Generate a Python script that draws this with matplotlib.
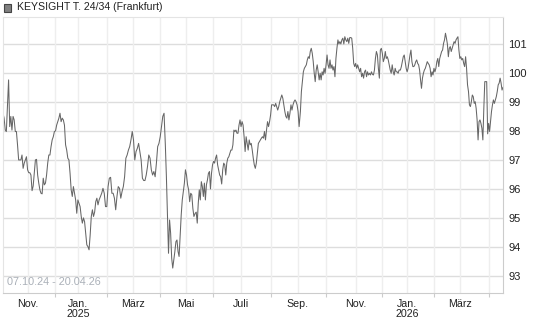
import numpy as np
import pandas as pd
import matplotlib
matplotlib.use('Agg')
import matplotlib.pyplot as plt
from matplotlib.patches import Rectangle

plt.rcParams['font.family'] = ['Liberation Sans', 'DejaVu Sans']

title = 'KEYSIGHT T. 24/34 (Frankfurt)'
period = '07.10.24 - 20.04.26'
y_ticks = [93, 94, 95, 96, 97, 98, 99, 100, 101]
month_names = {1: 'Jan.', 3: 'März', 5: 'Mai', 7: 'Juli', 9: 'Sep.', 11: 'Nov.'}

# Frankfurt exchange holidays in the period (axis runs on trading days)
holidays = ['2024-12-24', '2024-12-25', '2024-12-26', '2024-12-31', '2025-01-01',
            '2025-04-18', '2025-04-21', '2025-05-01', '2025-12-24', '2025-12-25',
            '2025-12-26', '2025-12-31', '2026-01-01', '2026-04-03', '2026-04-06']

# price readings, split in stretches between these dates
seg_dates = [('2024-10-07', '2025-01-24'), ('2025-01-28', '2025-04-04'),
             ('2025-04-07', '2025-05-12'), ('2025-05-13', '2025-09-02'),
             ('2025-09-03', '2025-12-18'), ('2025-12-19', '2026-04-20')]

seg_a = [98.61, 98.44, 98.03, 97.98, 98.90, 99.76, 98.15, 98.50, 98.03, 98.50, 98.38, 97.98, 97.98,
         97.52, 97.00, 97.00, 97.00, 97.17, 96.71, 96.89, 97.00, 97.11, 96.66, 96.56, 96.56, 96.48,
         95.94, 96.10, 96.54, 97.00, 97.02, 96.48, 96.20, 95.97, 95.85, 95.83, 96.37, 96.14, 96.20,
         96.48, 96.89, 97.17, 97.17, 97.46, 97.69, 97.80, 97.98, 98.00, 98.20, 98.32, 98.44, 98.61,
         98.32, 98.44, 98.38, 98.20, 97.52, 97.34, 97.06, 97.00, 96.54, 95.97, 95.74, 96.08, 95.85,
         95.62, 95.16, 95.62, 95.50, 95.39, 95.05, 94.82, 95.00, 94.87, 94.47, 94.07, 94.01, 93.90,
         94.41, 95.05, 95.28, 95.05, 95.20, 95.56, 95.68, 95.45, 95.62]
seg_b1 = [95.85, 96.02, 95.85, 95.39, 95.39, 96.08, 96.37, 96.40, 95.85, 95.85, 95.68, 95.28, 95.74,
          96.08, 96.02, 95.68, 95.91, 96.08, 96.42, 97.06, 97.17, 97.34, 97.46, 97.69, 97.98, 97.69,
          97.00, 97.29, 97.40, 97.57, 97.29, 97.00, 96.37, 96.29, 96.29, 96.48, 96.77, 97.17, 97.06,
          96.66, 96.48, 96.60, 96.42, 96.89, 97.46, 97.57, 97.80, 98.15, 98.50, 98.61]
seg_b2 = [97.52, 96.42, 95.16, 93.78, 94.93, 94.47, 93.61, 93.27, 93.55, 93.84, 94.18, 94.24, 93.84,
          93.67, 94.36, 95.10, 95.62, 95.91, 96.20, 96.66, 96.48, 96.14, 95.97, 95.56, 95.85, 95.80,
          95.33, 95.05]
seg_c = [95.16, 95.20, 94.82, 95.51, 95.97, 95.62, 96.25, 96.08, 95.74, 96.20, 95.62, 96.14, 96.31,
         96.54, 96.60, 96.00, 96.54, 96.83, 96.95, 96.89, 97.06, 97.17, 96.83, 96.66, 96.48, 96.42,
         96.17, 96.66, 96.89, 96.83, 96.48, 96.89, 97.06, 97.11, 97.23, 97.34, 97.34, 97.52, 98.03,
         97.98, 98.03, 97.92, 97.92, 98.20, 98.38, 98.15, 98.32, 98.20, 97.80, 97.29, 97.80, 97.57,
         97.34, 97.69, 97.52, 97.57, 97.34, 97.06, 96.83, 96.71, 96.89, 97.23, 97.57, 97.63, 97.69,
         97.75, 97.80, 97.75, 97.98, 97.69, 98.03, 98.32, 98.15, 98.32, 98.55, 98.90, 98.90, 98.90,
         98.84, 98.95, 98.84, 98.72, 98.84, 99.01, 99.13, 99.24, 99.13, 98.90, 98.67, 98.50, 98.44,
         98.67, 98.38, 98.61, 98.90, 98.72, 98.90, 99.01, 99.07, 99.01, 98.90, 98.67, 98.15]
seg_d = [98.67, 99.36, 99.70, 100.04, 100.16, 100.22, 100.28, 100.45, 100.56, 100.50, 100.74, 100.85,
         100.68, 100.39, 99.99, 99.70, 100.10, 100.28, 100.04, 99.76, 99.99, 99.76, 100.04, 99.93,
         100.16, 99.99, 100.28, 100.62, 100.28, 100.16, 100.45, 100.16, 100.28, 100.10, 100.22, 99.87,
         100.50, 100.85, 101.14, 101.00, 101.08, 101.00, 101.14, 101.20, 101.00, 101.25, 101.14,
         101.08, 101.20, 101.02, 101.22, 101.22, 101.20, 100.85, 100.33, 100.22, 100.33, 100.16,
         100.28, 100.16, 100.04, 100.16, 99.87, 99.99, 99.82, 100.04, 100.10, 99.87, 100.04, 99.93,
         99.99, 99.93, 100.04, 99.95, 99.93, 100.10, 100.50, 100.74, 100.62, 100.16, 99.82, 100.79,
         100.85, 100.68, 100.39, 100.50, 100.74, 100.50, 100.56, 100.45, 100.28, 100.10, 99.99,
         100.28, 100.04, 99.93, 100.16, 100.04, 100.04, 99.99, 100.10]
seg_e = [100.10, 100.22, 100.39, 100.56, 100.62, 100.39, 100.16, 100.04, 100.16, 100.39, 100.62,
         100.79, 100.39, 100.22, 100.22, 100.28, 100.39, 100.45, 100.33, 100.28, 100.10, 99.76, 99.47,
         99.82, 99.99, 100.10, 100.16, 100.28, 100.39, 100.33, 100.28, 100.16, 99.87, 100.04, 99.93,
         100.16, 100.04, 100.16, 100.39, 100.50, 100.22, 100.50, 100.62, 100.74, 100.79, 101.02,
         101.14, 101.37, 101.20, 101.00, 100.56, 100.85, 100.91, 100.74, 100.85, 100.97, 101.08,
         101.02, 101.14, 101.20, 101.25, 100.79, 100.50, 100.56, 100.45, 100.50, 100.33, 100.22,
         100.56, 100.16, 99.59, 99.36, 98.90, 98.84, 99.01, 99.24, 99.18, 98.95, 99.01, 98.78, 98.38,
         97.69, 98.32, 98.38, 98.26, 98.09, 97.69, 98.78, 99.70, 99.70, 99.70, 97.90, 98.26, 97.98,
         98.32, 98.67, 98.90, 99.07, 98.95, 99.07, 99.18, 99.36, 99.59, 99.65, 99.82, 99.65, 99.41,
         99.50]
segments = [seg_a, seg_b1, seg_b2, seg_c, seg_d, seg_e]

# trading-day calendar -> x position
days = pd.bdate_range('2024-10-07', '2026-04-20')
days = days[~days.isin(pd.to_datetime(holidays))]
pos = pd.Series(np.arange(len(days)), index=days)

xs, ys = [], []
for (d0, d1), vals in zip(seg_dates, segments):
    xs.extend(np.linspace(pos[pd.Timestamp(d0)], pos[pd.Timestamp(d1)], len(vals)))
    ys.extend(vals)

month_first = pos.groupby(days.to_period('M')).first()
month_first = month_first[month_first.index > pd.Period('2024-10', 'M')]

fig = plt.figure(figsize=(5.45, 3.27), dpi=100)
ax = fig.add_axes([3 / 545, 34 / 327, 500 / 545, 276 / 327])

for y in y_ticks:
    ax.axhline(y, color='#dddddd', lw=1, zorder=0)
for x in month_first.values:
    ax.axvline(x, color='#eeeeee', lw=1, zorder=0)

ax.plot(xs, ys, color='#666666', lw=0.75, zorder=2)

ax.set_xlim(0, len(days) - 1)
ax.set_ylim(92.41, 101.93)

ax.yaxis.tick_right()
ax.set_yticks(y_ticks)
ax.set_yticklabels([str(v) for v in y_ticks])
ax.tick_params(axis='y', length=0, pad=4, labelsize=8, labelcolor='#222222')

major_pos, major_lab, minor_pos = [], [], []
for per, p in month_first.items():
    if per.month in month_names:
        lab = month_names[per.month]
        if per.month == 1:
            lab += '\n' + str(per.year)
        major_pos.append(p)
        major_lab.append(lab)
    else:
        minor_pos.append(p)
ax.set_xticks(major_pos)
ax.set_xticklabels(major_lab)
ax.set_xticks(minor_pos, minor=True)
ax.tick_params(axis='x', which='major', length=0, pad=4, labelsize=7.7, labelcolor='#222222')
ax.tick_params(axis='x', which='minor', length=3, width=0.8, color='#cccccc')
for lab in ax.get_xticklabels():
    lab.set_linespacing(1.1)

for side in ['top', 'left']:
    ax.spines[side].set_color('#e4e4e4')
for side in ['bottom', 'right']:
    ax.spines[side].set_color('#cccccc')
for s in ax.spines.values():
    s.set_linewidth(0.8)

ax.text(0.008, 0.022, period, transform=ax.transAxes, fontsize=7.8, color='#aab0b8',
        va='bottom', ha='left')

fig.patches.append(Rectangle((3.5 / 545, 1 - 11.5 / 327), 7.5 / 545, 7.5 / 327,
                             transform=fig.transFigure, facecolor='#808080',
                             edgecolor='#444444', lw=0.8))
fig.text(17 / 545, 1 - 7.5 / 327, title, fontsize=7.6, color='#222222', va='center', ha='left')

fig.savefig('out.png', dpi=100)
